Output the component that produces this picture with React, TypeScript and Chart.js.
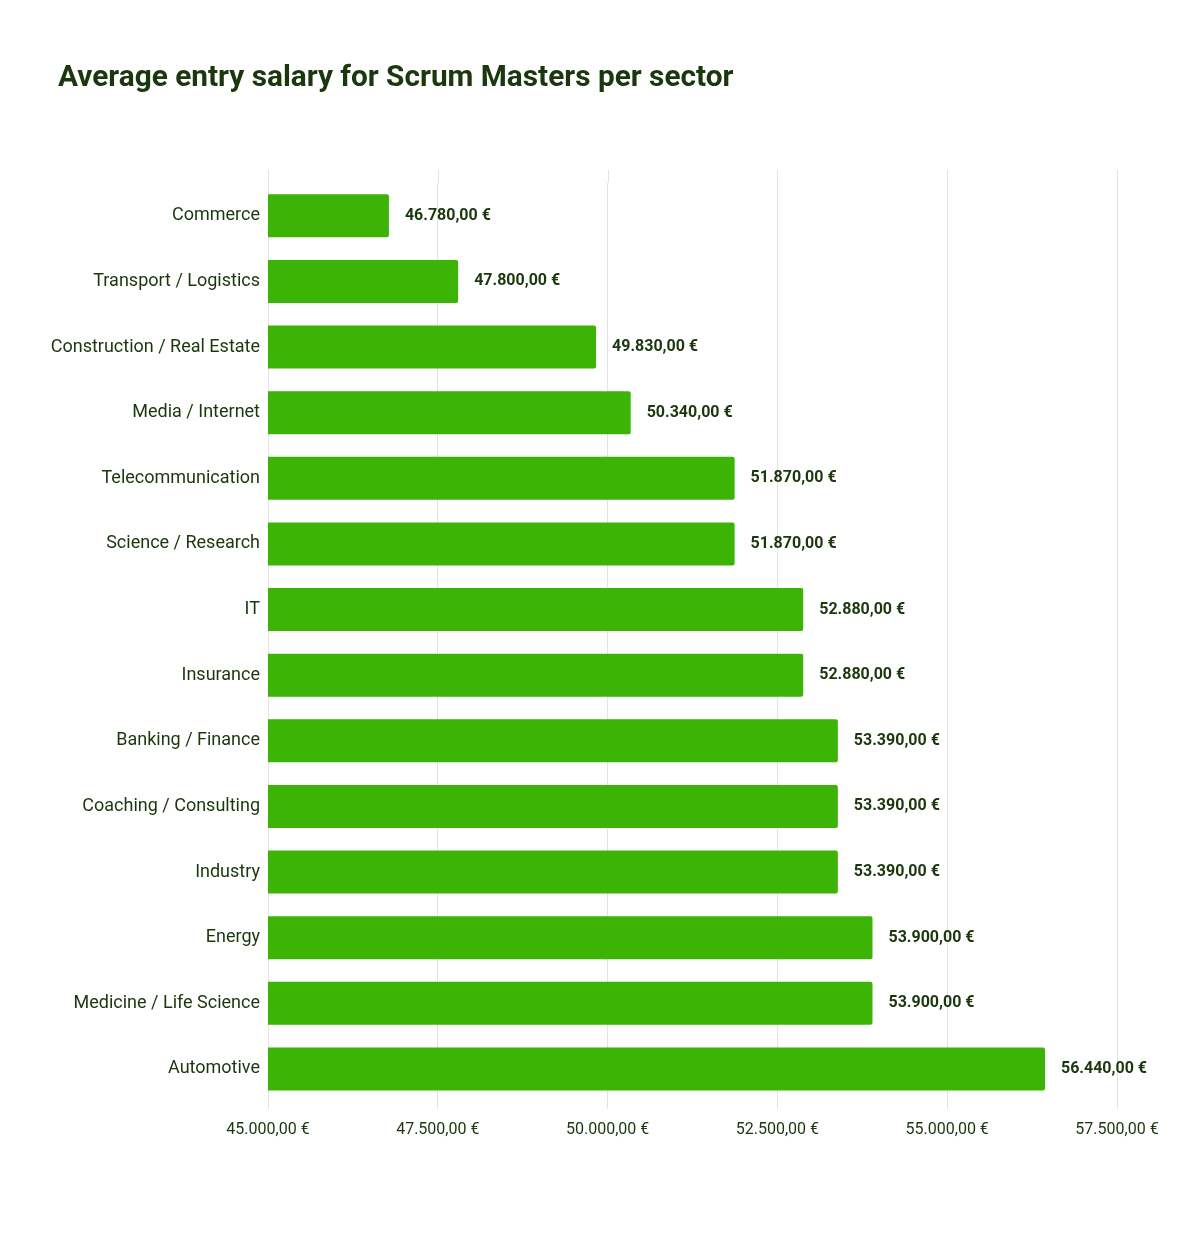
import React, { useEffect, useRef } from "react";
import { Chart, registerables } from "chart.js";

Chart.register(...registerables);

const categories = [
  "Commerce",
  "Transport / Logistics",
  "Construction / Real Estate",
  "Media / Internet",
  "Telecommunication",
  "Science / Research",
  "IT",
  "Insurance",
  "Banking / Finance",
  "Coaching / Consulting",
  "Industry",
  "Energy",
  "Medicine / Life Science",
  "Automotive",
];

const salaries = [
  46780, 47800, 49830, 50340, 51870, 51870, 52880, 52880, 53390, 53390, 53390,
  53900, 53900, 56440,
];

const axisMin = 45000;
const axisMax = 57500;
const axisStep = 2500;

const titleText = "Average entry salary for Scrum Masters per sector";

const TEXT_COLOR = "#1a370d";
const BAR_COLOR = "#3cb405";
const GRID_COLOR = "#e3e3e3";

function formatEuro(v: number): string {
  const fixed = Math.abs(v).toFixed(2);
  const [intPart, dec] = fixed.split(".");
  const withDots = intPart.replace(/\B(?=(\d{3})+(?!\d))/g, ".");
  return (v < 0 ? "-" : "") + withDots + "," + dec + " €";
}

const valueLabelPlugin = {
  id: "valueLabels",
  afterDatasetsDraw(chart: any) {
    const ctx = chart.ctx;
    const meta = chart.getDatasetMeta(0);
    ctx.save();
    ctx.font = "bold 16px Roboto";
    ctx.fillStyle = TEXT_COLOR;
    ctx.textAlign = "left";
    ctx.textBaseline = "middle";
    meta.data.forEach((bar: any, i: number) => {
      const val = chart.data.datasets[0].data[i];
      ctx.fillText(formatEuro(val), bar.x + 16, bar.y);
    });
    ctx.restore();
  },
};

const titlePlugin = {
  id: "customTitle",
  afterDraw(chart: any) {
    const ctx = chart.ctx;
    ctx.save();
    ctx.font = "bold 29.8px Roboto";
    ctx.fillStyle = TEXT_COLOR;
    ctx.textAlign = "left";
    ctx.textBaseline = "middle";
    ctx.fillText(titleText, 58, 79);
    ctx.restore();
  },
};

const gridExtendPlugin = {
  id: "gridExtend",
  beforeDatasetsDraw(chart: any) {
    const ctx = chart.ctx;
    const xs = chart.scales.x;
    const top = chart.chartArea.top;
    ctx.save();
    ctx.strokeStyle = GRID_COLOR;
    ctx.lineWidth = 1;
    xs.ticks.forEach((t: any) => {
      const px = Math.round(xs.getPixelForValue(t.value)) + 0.5;
      ctx.beginPath();
      ctx.moveTo(px, top - 13);
      ctx.lineTo(px, top);
      ctx.stroke();
    });
    ctx.restore();
  },
};

export default function App() {
  const canvasRef = useRef<HTMLCanvasElement | null>(null);

  useEffect(() => {
    if (!canvasRef.current) return;
    const chart = new Chart(canvasRef.current, {
      type: "bar",
      data: {
        labels: categories,
        datasets: [
          {
            data: salaries,
            backgroundColor: BAR_COLOR,
            borderRadius: 2,
            borderSkipped: false,
            barPercentage: 0.655,
            categoryPercentage: 1,
          },
        ],
      },
      options: {
        indexAxis: "y",
        responsive: false,
        animation: false,
        layout: {
          padding: { left: 30, right: 72, top: 183, bottom: 82 },
        },
        plugins: {
          legend: { display: false },
          tooltip: { enabled: false },
          title: { display: false },
        },
        scales: {
          x: {
            type: "linear",
            min: axisMin,
            max: axisMax,
            border: { display: false },
            grid: {
              color: GRID_COLOR,
              drawTicks: true,
              tickLength: 7,
            },
            ticks: {
              stepSize: axisStep,
              padding: 12,
              color: TEXT_COLOR,
              font: { family: "Roboto", size: 16 },
              callback: (v: any) => formatEuro(Number(v)),
            },
          },
          y: {
            border: { display: false },
            grid: { display: false, drawTicks: false },
            afterFit: (scale: any) => {
              scale.width = 238;
            },
            ticks: {
              padding: 8,
              color: TEXT_COLOR,
              font: { family: "Roboto", size: 18 },
            },
          },
        },
      },
      plugins: [valueLabelPlugin, gridExtendPlugin, titlePlugin],
    });
    return () => chart.destroy();
  }, []);

  return (
    <div style={{ position: "absolute", left: 0, top: 0, width: 1189, height: 1234, background: "#fff" }}>
      <canvas ref={canvasRef} width={1189} height={1234} />
    </div>
  );
}
